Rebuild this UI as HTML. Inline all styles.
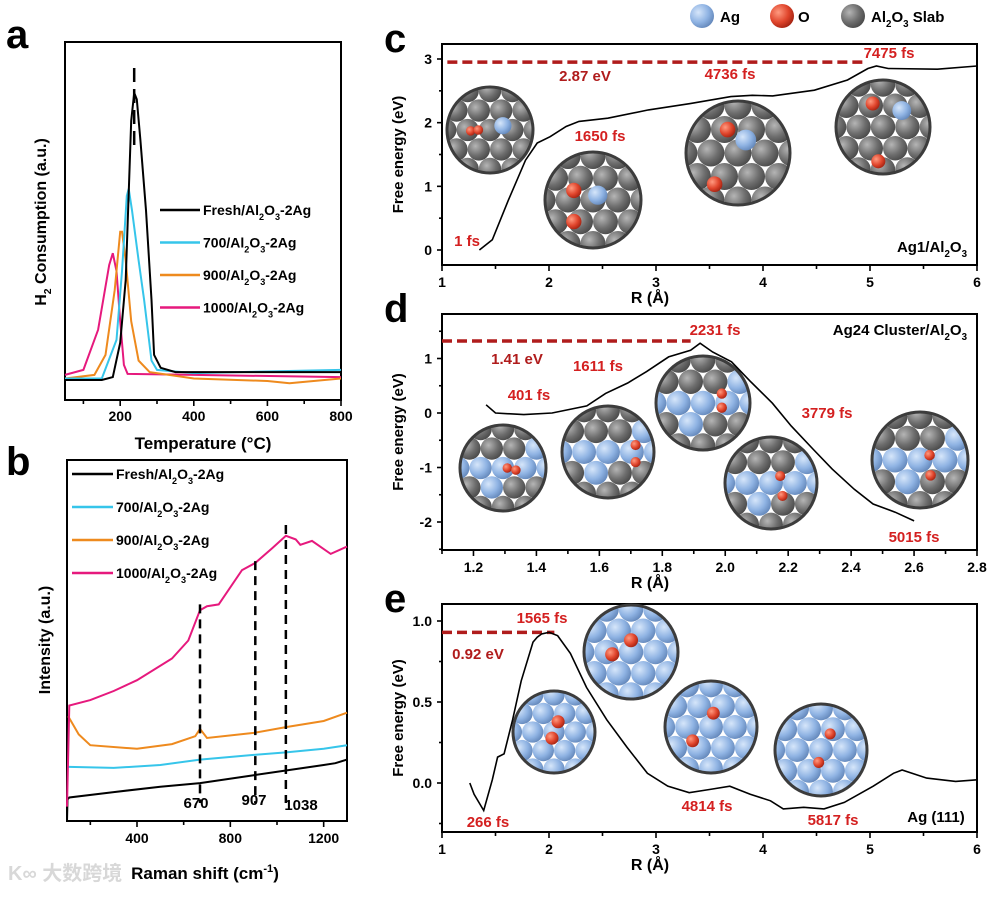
<!DOCTYPE html>
<html><head><meta charset="utf-8"><style>
html,body{margin:0;padding:0;background:#fff;}
svg{display:block;font-family:"Liberation Sans",Arial,"Noto Sans CJK SC",sans-serif;font-weight:bold;}
</style></head><body>
<svg id="fig" width="1001" height="897" viewBox="0 0 1001 897" xmlns="http://www.w3.org/2000/svg">
<defs>
<radialGradient id="gGray" cx="35%" cy="35%" r="70%"><stop offset="0" stop-color="#b5b5b5"/><stop offset="0.6" stop-color="#6e6e6e"/><stop offset="1" stop-color="#4a4a4a"/></radialGradient>
<radialGradient id="gBlue" cx="35%" cy="35%" r="70%"><stop offset="0" stop-color="#d6e6fa"/><stop offset="0.6" stop-color="#8fb3e3"/><stop offset="1" stop-color="#6488bb"/></radialGradient>
<radialGradient id="gRed" cx="35%" cy="35%" r="70%"><stop offset="0" stop-color="#ff9a80"/><stop offset="0.6" stop-color="#e0452c"/><stop offset="1" stop-color="#a52312"/></radialGradient>
</defs>
</svg>
<script>
// ---------- Panel a data (H2-TPR) ----------
const aTemps = {
 fresh:[50,150,180,200,215,230,238,245,255,270,285,292,310,350,800],
 t700:[50,150,190,205,218,223,232,250,265,285,300,400,800],
 t900:[50,130,160,185,200,205,215,230,250,280,400,600,660,800],
 t1000:[50,100,140,170,180,190,200,210,220,400,800]};
const aVals = {
 fresh:[5.6,5.6,6.4,16,33.5,78,85.8,84,72.6,53,28,12.6,9,7.8,7.8],
 t700:[6,6,16.8,36,57,59,53,39,28,11,8.4,7.5,8.4],
 t900:[6,7,12.6,30.7,47,47,39,22,11,7.8,6,5.3,4.7,6],
 t1000:[7,8.4,19.6,37.7,41,36,22,9.8,7.3,7,6.4]};
const aTicks = [200,400,600,800];
// ---------- Panel b data (Raman) ----------
const bShift = {
 fresh:[100,102,110,300,500,670,900,1038,1200,1250,1300],
 t700:[105,110,300,500,670,900,1038,1200,1300],
 t900:[105,150,200,400,550,650,670,700,900,1038,1200,1300],
 t1000:[100,110,200,300,400,550,620,670,700,750,850,907,980,1038,1080,1100,1150,1230,1300]};
const bVals = {
 fresh:[0,6,6.5,8,9.5,10.5,12.7,14,15.5,16,17],
 t700:[15,15,14.7,15.5,17,18.3,19,20,21],
 t900:[29,24,21,20,21.3,23.5,25.5,23,24.4,26,27.7,30],
 t1000:[4,32,33.5,36,39,45,50,58.4,59.5,60,69.5,71.5,75.6,79,78,76.5,77.6,74,76]};
const bTicks = [400,800,1200];
const bPeaks = [670,907,1038];
// ---------- Panel c data ----------
const cR = [1.35,1.47,1.62,1.78,1.89,2.01,2.16,2.28,2.55,2.93,3.32,3.7,3.9,4.09,4.48,4.79,4.98,5.06,5.17,5.63,6.0];
const cE = [0,0.16,0.78,1.41,1.68,1.78,1.94,2.02,2.07,2.2,2.3,2.41,2.43,2.42,2.51,2.67,2.85,2.89,2.85,2.84,2.89];
const cBarrier = [2.95];
const cXTicks = [1,2,3,4,5,6];
const cYTicks = [0,1,2,3];
// ---------- Panel d data ----------
const dR = [1.24,1.27,1.36,1.45,1.56,1.62,1.69,1.75,1.82,1.89,1.92,1.96,2.02,2.08,2.15,2.21,2.28,2.34,2.41,2.47,2.54,2.6];
const dE = [0.15,0,-0.03,0,0.13,0.36,0.55,0.76,1.03,1.15,1.28,1.12,0.94,0.58,0.18,-0.24,-0.67,-1.03,-1.4,-1.67,-1.82,-1.98];
const dBarrier = [1.32];
const dXTicks = [1.2,1.4,1.6,1.8,2.0,2.2,2.4,2.6,2.8];
const dYTicks = [-2,-1,0,1];
// ---------- Panel e data ----------
const eR = [1.26,1.3,1.39,1.47,1.52,1.58,1.66,1.74,1.85,1.89,1.93,2.0,2.08,2.2,2.35,2.54,2.73,2.92,3.11,3.31,3.5,3.69,3.88,4.07,4.19,4.38,4.57,4.76,5.03,5.22,5.3,5.53,5.8,6.0];
const eE = [0,-0.07,-0.17,0.02,0.16,0.18,0.39,0.63,0.87,0.9,0.92,0.93,0.91,0.8,0.59,0.39,0.22,0.06,-0.02,-0.06,-0.04,-0.02,-0.07,-0.11,-0.16,-0.15,-0.16,-0.12,-0.02,0.06,0.08,0.03,0.01,0.02];
const eBarrier = [0.93];
const eXTicks = [1,2,3,4,5,6];
const eYTicks = ['0.0','0.5','1.0'];

const NS='http://www.w3.org/2000/svg';
const svg=document.getElementById('fig');
function mk(tag,attrs,parent){const e=document.createElementNS(NS,tag);for(const k in attrs)e.setAttribute(k,attrs[k]);(parent||svg).appendChild(e);return e;}
function txt(x,y,s,size,anchor,fill,parent){const t=mk('text',{x:x,y:y,'font-size':size,'text-anchor':anchor||'middle',fill:fill||'#000'},parent);t.textContent=s;return t;}
function lin(d0,d1,r0,r1){return v=>r0+(v-d0)*(r1-r0)/(d1-d0);}
function pathOf(xs,ys,X,Y){return xs.map((v,i)=>(i?'L':'M')+X(v).toFixed(1)+','+Y(ys[i]).toFixed(1)).join('');}
function box(x0,y0,x1,y1,name){const r=mk('rect',{x:x0,y:y0,width:x1-x0,height:y1-y0,fill:'none',stroke:'#000','stroke-width':2});}
function tick(x1,y1,x2,y2){mk('line',{x1:x1,y1:y1,x2:x2,y2:y2,stroke:'#000','stroke-width':1.6});}
// parts: [text, dy, small]
function fillParts(t,parts,size){parts.forEach(p=>{const a={};if(p[1])a.dy=p[1];if(p[2])a['font-size']=size*0.65;const s=mk('tspan',a,t);s.textContent=p[0];});}
function subText(x,y,parts,size,anchor,fill,name){
  const t=mk('text',{x:x,y:y,'font-size':size,'text-anchor':anchor||'start',fill:fill||'#000'});
  
  fillParts(t,parts,size);return t;}
function alo(prefix,suffix){return [[prefix],['2',5,1],['O',-5],['3',5,1],[suffix,-5]];}

// ================= Panel a =================
(function(){
 const X=lin(50,800,65,341), Y=lin(0,100,400,42);
 box(65,42,341,400,'panel-a-plot-area');
 for(let v=100;v<=800;v+=100){tick(X(v),400,X(v),v%200?404:406);}
 aTicks.forEach(v=>{const t=txt(X(v),421,String(v),14);});
 const cols={fresh:'#000',t700:'#36c5ea',t900:'#ee8a1e',t1000:'#e6197d'};
 ['t1000','t900','t700','fresh'].forEach(k=>{const p=mk('path',{d:pathOf(aTemps[k],aVals[k],X,Y),fill:'none',stroke:cols[k],'stroke-width':2});});
 const dl=mk('line',{x1:X(238),y1:68,x2:X(238),y2:150,stroke:'#000','stroke-width':2.5,'stroke-dasharray':'14,7'});
 
 const labs=[['fresh','Fresh/Al','-2Ag'],['t700','700/Al','-2Ag'],['t900','900/Al','-2Ag'],['t1000','1000/Al','-2Ag']];
 labs.forEach((l,i)=>{const y=210+i*32.5;
   const ln=mk('line',{x1:160,y1:y,x2:200,y2:y,stroke:cols[l[0]],'stroke-width':2.5});
   subText(203,y+5,alo(l[1],l[2]),14,'start','#000','legend-entry-'+l[0]);});
 const yt=mk('text',{transform:'translate(46,222) rotate(-90)','font-size':16,'text-anchor':'middle'});
 
 fillParts(yt,[['H'],['2',5,1],[' Consumption (a.u.)',-5]],16);
 const xt=txt(203,449,'Temperature (°C)',17);
 const pl=txt(6,48,'a',40,'start');
})();

// ================= Panel b =================
(function(){
 const X=lin(100,1300,67,347), Y=lin(0,100,821,460);
 box(67,460,347,821,'panel-b-plot-area');
 for(let v=200;v<=1300;v+=200){tick(X(v),821,X(v),v%400?825:827);}
 bTicks.forEach(v=>{const t=txt(X(v),843,String(v),14);});
 const cols={fresh:'#000',t700:'#36c5ea',t900:'#ee8a1e',t1000:'#e6197d'};
 ['fresh','t700','t900','t1000'].forEach(k=>{const p=mk('path',{d:pathOf(bShift[k],bVals[k],X,Y),fill:'none',stroke:cols[k],'stroke-width':2});});
 const tops=[60,72,82];
 bPeaks.forEach((v,i)=>{const l=mk('line',{x1:X(v),y1:Y(tops[i]),x2:X(v),y2:Y(5),stroke:'#000','stroke-width':2.5,'stroke-dasharray':'9,6'});});
 const pls=[[196,808],[254,805],[301,810]];
 bPeaks.forEach((v,i)=>{const t=txt(pls[i][0],pls[i][1],String(v),15);});
 const labs=[['fresh','Fresh/Al','-2Ag'],['t700','700/Al','-2Ag'],['t900','900/Al','-2Ag'],['t1000','1000/Al','-2Ag']];
 labs.forEach((l,i)=>{const y=474+i*33;
   const ln=mk('line',{x1:72,y1:y,x2:113,y2:y,stroke:cols[l[0]],'stroke-width':2.5});
   subText(116,y+5,alo(l[1],l[2]),14,'start','#000','legend-entry-'+l[0]);});
 const yt=txt(0,0,'Intensity (a.u.)',16);yt.setAttribute('transform','translate(50,640) rotate(-90)');
 const xt=mk('text',{x:205,y:879,'font-size':17,'text-anchor':'middle'});
 fillParts(xt,[['Raman shift (cm'],['-1',-7,1],[')',7]],17);
 const pl=txt(6,475,'b',40,'start');
 const wm=txt(8,880,'K∞ 大数跨境',20,'start','#d8d8d8');
})();

// ================= Inset helper =================
let clipId=0;
function inset(cx,cy,r,name,mode,reds,blues){
 const g=mk('g',{});
 const id='clip'+(clipId++);
 const cp=mk('clipPath',{id:id},g);mk('circle',{cx:cx,cy:cy,r:r},cp);
 const inner=mk('g',{'clip-path':'url(#'+id+')'},g);
 mk('circle',{cx:cx,cy:cy,r:r,fill:'#fff'},inner);
 const s=r*0.52, sr=r*0.26;
 for(let j=-3;j<=3;j++)for(let i=-3;i<=3;i++){
   const x=cx+i*s+(j%2?s/2:0), y=cy+j*s*0.87;
   let f='url(#gGray)';
   if(mode==='blue')f='url(#gBlue)';
   else if(mode==='mix'&&((i*3+j*5+9)%3===0||(i+j)%4===0))f='url(#gBlue)';
   mk('circle',{cx:x,cy:y,r:sr,fill:f},inner);}
 (blues||[]).forEach(b=>mk('circle',{cx:cx+b[0]*r,cy:cy+b[1]*r,r:r*0.2,fill:'url(#gBlue)'},inner));
 (reds||[]).forEach(b=>mk('circle',{cx:cx+b[0]*r,cy:cy+b[1]*r,r:b[2]?r*b[2]:r*0.11,fill:'url(#gRed)'},inner));
 mk('circle',{cx:cx,cy:cy,r:r,fill:'none',stroke:'#3c3c3c','stroke-width':3},g);
}
function energyPanel(o){
 const X=lin(o.xd[0],o.xd[1],442,977), Y=lin(o.yd[0],o.yd[1],o.yr[0],o.yr[1]);
 box(442,o.top,977,o.bot,o.name+'-plot-area');
 o.xt.forEach(v=>{tick(X(v),o.bot,X(v),o.bot+6);const t=txt(X(v),o.bot+22,o.dec?Number(v).toFixed(1):String(v),14);});
 o.minor.forEach(v=>tick(X(v),o.bot,X(v),o.bot+4));
 o.yt.forEach(v=>{const y=Y(Number(v));tick(442,y,437,y);const t=txt(432,y+5,String(v),14,'end');});
 o.yminor.forEach(v=>tick(442,Y(v),439,Y(v)));
 o.insets();
 const dl=mk('line',{x1:X(o.dash[0]),y1:Y(o.bar),x2:X(o.dash[1]),y2:Y(o.bar),stroke:'#b01c1c','stroke-width':3.5,'stroke-dasharray':'10,5'});
 
 const p=mk('path',{d:pathOf(o.xs,o.ys,X,Y),fill:'none',stroke:'#000','stroke-width':1.6});
 
 o.labels.forEach(l=>{const t=txt(l[0],l[1],l[2],15,'middle',l[3]||'#d42020');});
 o.struct();
 const yt=txt(0,0,'Free energy (eV)',15);yt.setAttribute('transform','translate(403,'+((o.top+o.bot)/2)+') rotate(-90)');
 const xt=txt(650,o.bot+38,'R (Å)',16);
 const pl=txt(384,o.top+8,o.letter,40,'start');
 o.extra();
}

// ================= Panel c =================
energyPanel({name:'panel-c',letter:'c',xd:[1,6],yd:[0,3],yr:[250,59],top:44,bot:265,xs:cR,ys:cE,bar:cBarrier[0],dash:[1.05,4.95],
 xt:cXTicks,minor:[1.5,2.5,3.5,4.5,5.5],yt:cYTicks,yminor:[0.5,1.5,2.5],
 insets:()=>{inset(490,130,43,'inset-c-1fs','gray',[[-0.45,0.02],[-0.27,0.0]],[[0.3,-0.1]]);
  inset(593,200,48,'inset-c-1650fs','gray',[[-0.4,-0.2,0.16],[-0.4,0.45,0.16]],[[0.1,-0.1]]);
  inset(738,153,52,'inset-c-4736fs','gray',[[-0.2,-0.45,0.15],[-0.45,0.6,0.15]],[[0.15,-0.25]]);
  inset(883,127,47,'inset-c-7475fs','gray',[[-0.22,-0.5,0.15],[-0.1,0.73,0.15]],[[0.4,-0.35]]);},
 labels:[[585,81,'2.87 eV','#b01c1c','barrier-label'],[730,79,'4736 fs'],[889,58,'7475 fs'],[600,141,'1650 fs'],[467,246,'1 fs']],
 struct:()=>{subText(967,252,[['Ag1/Al'],['2',5,1],['O',-5],['3',5,1]],15,'end','#000','structure-label');},
 extra:()=>{
  const lg=[[702,'url(#gBlue)','Ag',720,'legend-ag'],[782,'url(#gRed)','O',798,'legend-o']];
  lg.forEach(l=>{mk('circle',{cx:l[0],cy:16,r:12,fill:l[1]});const t=txt(l[3],22,l[2],15,'start');});
  mk('circle',{cx:853,cy:16,r:12,fill:'url(#gGray)'});
  subText(871,22,[['Al'],['2',5,1],['O',-5],['3',5,1],[' Slab',-5]],15,'start','#000','legend-al2o3-slab');
 }});

// ================= Panel d =================
energyPanel({name:'panel-d',letter:'d',xd:[1.1,2.8],yd:[0,1],yr:[413,358.5],top:314,bot:550,xs:dR,ys:dE,bar:dBarrier[0],dash:[1.1,1.89],dec:true,
 xt:dXTicks,minor:[1.1,1.3,1.5,1.7,1.9,2.1,2.3,2.5,2.7],yt:dYTicks,yminor:[-2.5,-1.5,-0.5,0.5,1.5],
 insets:()=>{inset(503,468,43,'inset-d-401fs','mix',[[0.1,0],[0.3,0.05]]);
  inset(608,452,46,'inset-d-1611fs','mix',[[0.6,-0.15],[0.6,0.22]]);
  inset(703,403,47,'inset-d-2231fs','mix',[[0.4,-0.2],[0.4,0.1]]);
  inset(771,483,46,'inset-d-3779fs','mix',[[0.2,-0.15],[0.25,0.28]]);
  inset(920,460,48,'inset-d-5015fs','mix',[[0.2,-0.1],[0.22,0.32]]);},
 labels:[[715,335,'2231 fs'],[517,364,'1.41 eV','#b01c1c','barrier-label'],[598,371,'1611 fs'],[529,400,'401 fs'],[827,418,'3779 fs'],[914,542,'5015 fs']],
 struct:()=>{subText(967,335,[['Ag24 Cluster/Al'],['2',5,1],['O',-5],['3',5,1]],15,'end','#000','structure-label');},
 extra:()=>{}});

// ================= Panel e =================
energyPanel({name:'panel-e',letter:'e',xd:[1,6],yd:[0,1],yr:[783,621],top:604,bot:832,xs:eR,ys:eE,bar:eBarrier[0],dash:[1,2.05],
 xt:eXTicks,minor:[1.5,2.5,3.5,4.5,5.5],yt:eYTicks,yminor:[-0.25,0.25,0.75],
 insets:()=>{inset(554,732,41,'inset-e-266fs','blue',[[0.1,-0.25,0.16],[-0.05,0.15,0.16]]);
  inset(631,652,47,'inset-e-1565fs','blue',[[0,-0.25,0.15],[-0.4,0.05,0.15]]);
  inset(711,727,46,'inset-e-4814fs','blue',[[0.05,-0.3,0.14],[-0.4,0.3,0.14]]);
  inset(821,750,46,'inset-e-5817fs','blue',[[0.2,-0.35,0.12],[-0.05,0.27,0.12]]);},
 labels:[[542,623,'1565 fs'],[478,659,'0.92 eV','#b01c1c','barrier-label'],[488,827,'266 fs'],[707,811,'4814 fs'],[833,825,'5817 fs'],[936,822,'Ag (111)','#000','structure-label']],
 struct:()=>{},
 extra:()=>{}});
</script>
</body></html>
